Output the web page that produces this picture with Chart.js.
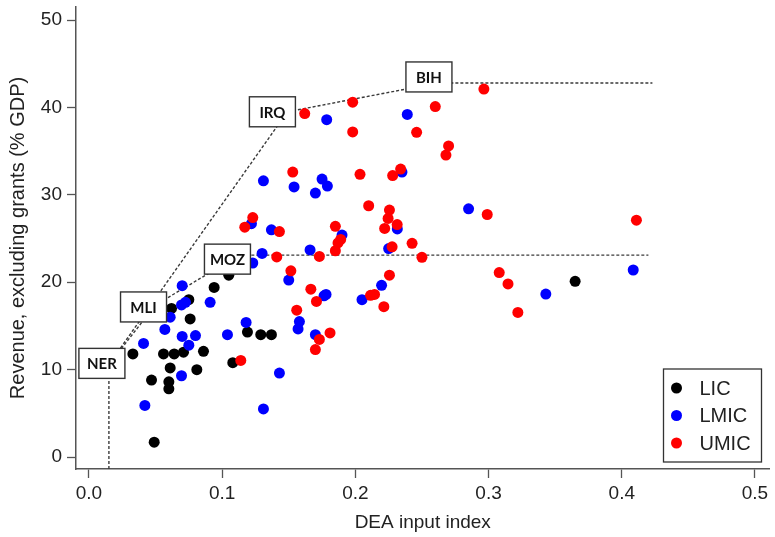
<!DOCTYPE html>
<html>
<head>
<meta charset="utf-8">
<script src="https://cdn.jsdelivr.net/npm/chart.js@4.4.1/dist/chart.umd.min.js"></script>
<style>
  html, body { margin: 0; padding: 0; background: #fff; }
  #wrap { width: 775px; height: 537px; position: relative; }
</style>
</head>
<body>
<div id="wrap"><canvas id="c"></canvas></div>
<script>
// --- data ---
const groups = ['LIC', 'LMIC', 'UMIC'];

const licX = [0.105, 0.094, 0.075, 0.062, 0.076, 0.033, 0.056, 0.064, 0.071, 0.086, 0.108, 0.061, 0.081, 0.047, 0.060, 0.060, 0.049, 0.119, 0.129, 0.137, 0.365];
const licY = [20.8, 19.4, 18.0, 17.0, 15.8, 11.8, 11.8, 11.8, 12.0, 12.1, 10.8, 10.2, 10.0, 8.8, 8.6, 7.8, 1.7, 14.3, 14.0, 14.0, 20.1];

const lmicX = [0.070, 0.091, 0.0695, 0.0725, 0.061, 0.057, 0.070, 0.080, 0.075, 0.104, 0.041, 0.0695, 0.042, 0.130, 0.123, 0.166, 0.150, 0.1765, 0.178, 0.118, 0.158, 0.157, 0.170, 0.143, 0.131, 0.1785, 0.131, 0.154, 0.175, 0.179, 0.170, 0.122, 0.137, 0.190, 0.239, 0.235, 0.285, 0.2315, 0.225, 0.2197, 0.205, 0.343, 0.4086];
const lmicY = [19.6, 17.7, 17.4, 17.7, 16.0, 14.6, 13.8, 13.9, 12.8, 14.0, 13.0, 9.3, 5.9, 23.3, 22.2, 23.7, 20.25, 18.45, 18.6, 15.4, 15.5, 14.65, 14.0, 9.6, 5.5, 38.6, 31.6, 30.9, 31.8, 31.0, 30.2, 26.7, 26.0, 25.4, 39.2, 32.6, 28.4, 26.1, 23.85, 19.65, 18.0, 18.65, 21.4];

const umicX = [0.114, 0.162, 0.153, 0.123, 0.117, 0.143, 0.185, 0.189, 0.187, 0.185, 0.198, 0.2965, 0.260, 0.198, 0.246, 0.270, 0.268, 0.2035, 0.234, 0.228, 0.210, 0.2256, 0.2246, 0.222, 0.2314, 0.299, 0.141, 0.173, 0.2276, 0.2426, 0.250, 0.1516, 0.1666, 0.1708, 0.156, 0.181, 0.173, 0.170, 0.2256, 0.2114, 0.2144, 0.2214, 0.308, 0.411, 0.3146, 0.322];
const umicY = [11.05, 39.3, 32.6, 27.4, 26.3, 25.8, 26.4, 24.9, 24.5, 23.6, 40.6, 42.1, 40.1, 37.2, 37.15, 35.6, 34.55, 32.35, 32.95, 32.2, 28.75, 28.25, 27.3, 26.15, 26.6, 27.75, 22.9, 22.95, 24.05, 24.45, 22.85, 21.3, 19.2, 17.8, 16.8, 14.2, 13.45, 12.3, 20.8, 18.5, 18.6, 17.2, 21.1, 27.1, 19.8, 16.55];

// frontier countries (labelled boxes)
const frontierNames = ['NER', 'MLI', 'MOZ', 'IRQ', 'BIH'];
const frontierX = [0.015, 0.050, 0.113, 0.149, 0.262];
const frontierY = [10.6, 17.4, 23.1, 39.5, 42.8];
const lowerPath = ['NER', 'MLI', 'MOZ'];
const upperPath = ['NER', 'IRQ', 'BIH'];
const lowerEndX = 0.420;
const upperEndX = 0.423;

const xTicks = [0.0, 0.1, 0.2, 0.3, 0.4, 0.5];
const yTicks = [0, 10, 20, 30, 40, 50];
const xMin = -0.0097, xMax = 0.5109;
const yMin = -1.37, yMax = 51.49;

// --- helpers ---
const pts = (xs, ys) => xs.map((x, i) => ({ x: x, y: ys[i] }));
const fpt = name => {
  const i = frontierNames.indexOf(name);
  return { x: frontierX[i], y: frontierY[i] };
};

const colors = { LIC: '#000000', LMIC: '#0000ff', UMIC: '#ff0000' };
const FONT = '"Liberation Sans", Arial, sans-serif';
const axisColor = '#555';
const textColor = '#222';

const dotSet = (label, xs, ys, order) => ({
  type: 'scatter',
  label: label,
  data: pts(xs, ys),
  backgroundColor: colors[label],
  borderWidth: 0,
  pointRadius: 5.5,
  pointHoverRadius: 5.5,
  order: order
});

const dashSet = (label, data) => ({
  type: 'line',
  label: label,
  data: data,
  borderColor: '#3a3a3a',
  borderWidth: 1.4,
  borderDash: [3, 2],
  pointRadius: 0,
  fill: false,
  tension: 0,
  order: 10
});

const lower = lowerPath.map(fpt).concat([{ x: lowerEndX, y: fpt('MOZ').y }]);
const upper = upperPath.map(fpt).concat([{ x: upperEndX, y: fpt('BIH').y }]);
const drop = [{ x: fpt('NER').x, y: yMin }, fpt('NER')];

// label box offsets from the point (px) - style only
const boxOffset = { NER: [-7, -1], MLI: [-12, 2], MOZ: [-12, 4], IRQ: [-15, 0], BIH: [-9, -6] };

const boxLabels = {
  id: 'boxLabels',
  afterDatasetsDraw(chart) {
    const ctx = chart.ctx;
    const xs = chart.scales.x, ys = chart.scales.y;
    ctx.save();
    ctx.font = 'bold 15px Lato, "Open Sans", sans-serif';
    ctx.textAlign = 'center';
    ctx.textBaseline = 'middle';
    frontierNames.forEach((name, i) => {
      const off = boxOffset[name];
      const cx = xs.getPixelForValue(frontierX[i]) + off[0];
      const cy = ys.getPixelForValue(frontierY[i]) + off[1];
      const w = 46, h = 30;
      ctx.fillStyle = '#fff';
      ctx.fillRect(cx - w / 2, cy - h / 2, w, h);
      ctx.strokeStyle = '#333';
      ctx.lineWidth = 1.4;
      ctx.strokeRect(cx - w / 2, cy - h / 2, w, h);
      ctx.fillStyle = '#111';
      ctx.fillText(name, cx, cy + 1);
    });
    ctx.restore();
  }
};

const boxLegend = {
  id: 'boxLegend',
  afterDraw(chart) {
    const ctx = chart.ctx;
    const area = chart.chartArea;
    const right = area.right - 8, bottom = area.bottom - 7;
    const w = 98, h = 93;
    const left = right - w, top = bottom - h;
    ctx.save();
    ctx.fillStyle = '#fff';
    ctx.fillRect(left, top, w, h);
    ctx.strokeStyle = '#333';
    ctx.lineWidth = 1.3;
    ctx.strokeRect(left, top, w, h);
    ctx.font = '20px ' + FONT;
    ctx.textBaseline = 'middle';
    ctx.textAlign = 'left';
    groups.forEach((g, i) => {
      const y = top + 19 + i * 27.5;
      ctx.fillStyle = colors[g];
      ctx.beginPath();
      ctx.arc(left + 13, y, 5.5, 0, Math.PI * 2);
      ctx.fill();
      ctx.fillStyle = textColor;
      ctx.fillText(g, left + 36, y + 1);
    });
    ctx.restore();
  }
};

new Chart(document.getElementById('c'), {
  data: {
    datasets: [
      dotSet('UMIC', umicX, umicY, 1),
      dotSet('LMIC', lmicX, lmicY, 2),
      dotSet('LIC', licX, licY, 3),
      dashSet('lower', lower),
      dashSet('upper', upper),
      dashSet('drop', drop)
    ]
  },
  options: {
    responsive: true,
    maintainAspectRatio: false,
    animation: false,
    layout: { padding: { top: 7, right: 3, left: 0, bottom: 0 } },
    plugins: { legend: { display: false }, tooltip: { enabled: false } },
    scales: {
      x: {
        type: 'linear',
        min: xMin,
        max: xMax,
        afterBuildTicks: s => { s.ticks = xTicks.map(v => ({ value: v })); },
        afterFit: s => { s.height = 68; s.paddingLeft = 0; s.paddingRight = 0; },
        ticks: {
          callback: v => v.toFixed(1),
          font: { family: FONT, size: 19 },
          color: textColor,
          padding: 4,
          maxRotation: 0
        },
        grid: { drawOnChartArea: false, drawTicks: true, tickLength: 9, tickColor: axisColor, tickWidth: 1.3 },
        border: { display: true, color: axisColor, width: 1.5 },
        title: {
          display: true,
          text: 'DEA input index',
          font: { family: FONT, size: 19 },
          color: textColor,
          padding: { bottom: 3, top: 0 }
        }
      },
      y: {
        type: 'linear',
        min: yMin,
        max: yMax,
        afterBuildTicks: s => { s.ticks = yTicks.map(v => ({ value: v })); },
        afterFit: s => { s.width = 76; s.paddingTop = 0; s.paddingBottom = 0; },
        ticks: {
          font: { family: FONT, size: 19 },
          color: textColor,
          padding: 5
        },
        grid: { drawOnChartArea: false, drawTicks: true, tickLength: 9, tickColor: axisColor, tickWidth: 1.3 },
        border: { display: true, color: axisColor, width: 1.5 },
        title: {
          display: true,
          text: 'Revenue, excluding grants (% GDP)',
          font: { family: FONT, size: 20 },
          color: textColor,
          padding: { top: 6, bottom: 0 }
        }
      }
    }
  },
  plugins: [boxLabels, boxLegend]
});
</script>
</body>
</html>
